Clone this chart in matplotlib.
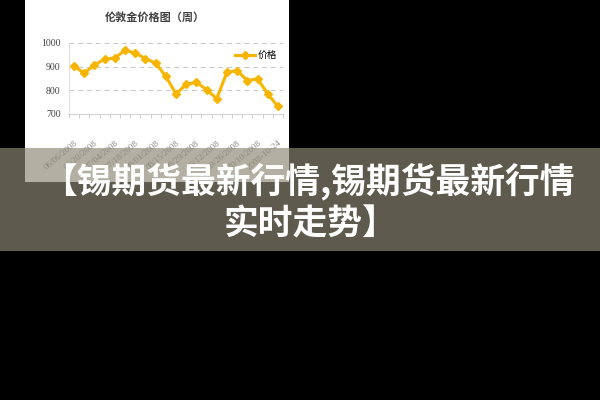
import matplotlib.pyplot as plt
from matplotlib.patches import Rectangle
import numpy as np

plt.rcParams['font.family'] = ['Noto Sans CJK SC', 'DejaVu Sans']

# weekly gold price
prices = [901, 873, 907, 932, 937, 969, 958, 934, 915, 859, 785,
          825, 834, 803, 765, 877, 883, 841, 849, 785, 732]
date_labels = ['06/06/2008', '06/20/2008', '07/04/2008', '07/18/2008',
               '08/01/2008', '08/15/2008', '08/29/2008', '09/12/2008',
               '09/26/2008', '10/10/2008', '2008-10-24']
y_ticks = [700, 800, 900, 1000]

title = '伦敦金价格图（周）'
series_name = '价格'
banner_lines = ['【锡期货最新行情,锡期货最新行情', '实时走势】']

fig = plt.figure(figsize=(6, 4), dpi=100, facecolor='black')

# white chart panel
fig.patches.append(Rectangle((25 / 600, 1 - 182 / 400), 264 / 600, 182 / 400,
                             transform=fig.transFigure, facecolor='white',
                             edgecolor='none', zorder=-1))

ax = fig.add_axes([69 / 600, 1 - 114 / 400, 214 / 600, 71 / 400])
ax.set_facecolor('white')

x = np.arange(len(prices))
ax.plot(x, prices, color='#f7b500', linewidth=2.2, marker='D', markersize=4.5,
        label=series_name, zorder=3)

ax.set_xlim(-0.5, len(prices) - 0.5)
ax.set_ylim(700, 1000)
ax.set_yticks(y_ticks)
ax.set_yticklabels([str(v) for v in y_ticks], fontsize=7, color='#404040',
                   family=['Liberation Serif'])
ax.tick_params(axis='y', length=0, pad=6)

ax.set_xticks(x[::2])
ax.set_xticklabels(date_labels, rotation=40, ha='right', rotation_mode='anchor',
                   fontsize=6.5, color='#8a8a8a', family=['Liberation Serif'])
ax.set_xticks(np.arange(-0.5, len(prices), 1), minor=True)
ax.tick_params(axis='x', which='major', length=0, pad=18)
ax.tick_params(axis='x', which='minor', length=3, color='#c8c8c8', width=0.6)

for v in y_ticks[1:]:
    ax.axhline(v, color='#c8c8c8', linestyle=(0, (5, 4)), linewidth=0.7, zorder=1)

for s in ['top', 'right']:
    ax.spines[s].set_visible(False)
ax.spines['left'].set_color('#d8d8d8')
ax.spines['bottom'].set_color('#c8c8c8')
ax.spines['left'].set_linewidth(0.6)
ax.spines['bottom'].set_linewidth(0.6)

leg = ax.legend(loc='upper right', bbox_to_anchor=(1.0, 0.98), frameon=False,
                fontsize=7, handlelength=2.0, handletextpad=0.3,
                borderaxespad=0.2)

fig.text(155 / 600, 1 - 17 / 400, title, ha='center', va='center',
         fontsize=8, fontweight='bold', color='#404040')

# translucent banner over the chart
fig.patches.append(Rectangle((0, 1 - 251 / 400), 1, 103 / 400,
                             transform=fig.transFigure, facecolor='#8e8876',
                             alpha=0.67, edgecolor='none', zorder=5))
fig.text(0.5 + 8 / 600, 1 - 181 / 400, banner_lines[0], ha='center', va='center',
         fontsize=25, fontweight='black', color='white', zorder=6)
fig.text(0.5 + 10 / 600, 1 - 224 / 400, banner_lines[1], ha='center', va='center',
         fontsize=25, fontweight='black', color='white', zorder=6)

fig.savefig('out.png', dpi=100, facecolor='black')
